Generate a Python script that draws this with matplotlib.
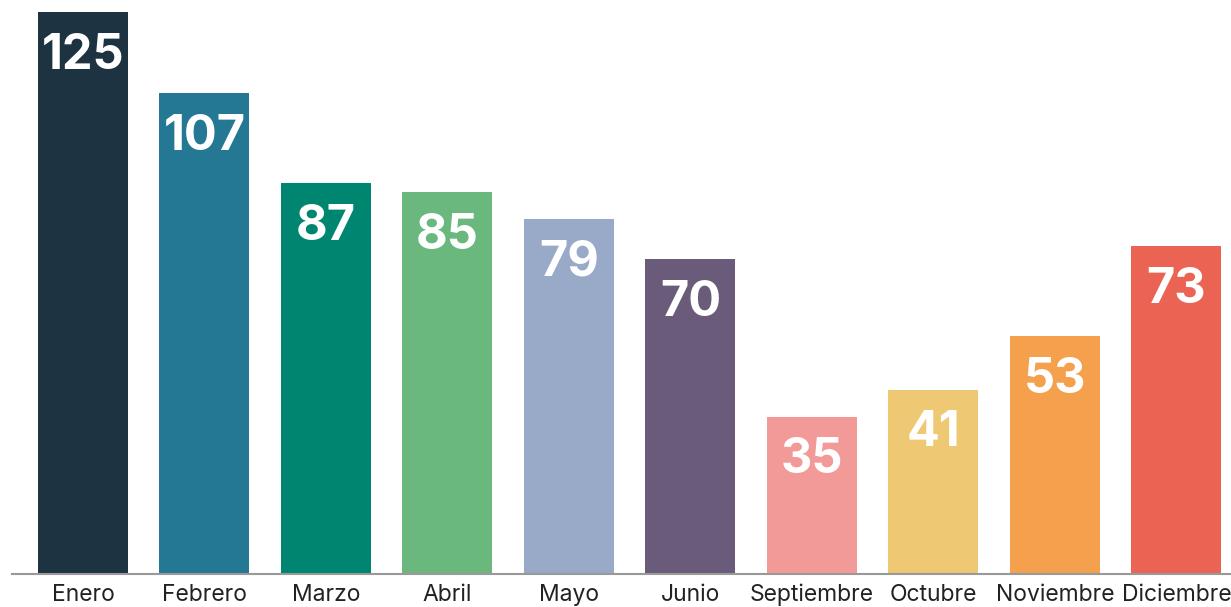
import matplotlib.pyplot as plt

months = ['Enero', 'Febrero', 'Marzo', 'Abril', 'Mayo', 'Junio',
          'Septiembre', 'Octubre', 'Noviembre', 'Diciembre']
values = [125, 107, 87, 85, 79, 70, 35, 41, 53, 73]
colors = ['#1d3341', '#247894', '#008570', '#6bb87f', '#99aac8',
          '#6b5b7b', '#f29a98', '#efc874', '#f5a04d', '#eb6453']

fig = plt.figure(figsize=(12.31, 6.07), dpi=100)
ax = fig.add_axes([12 / 1231, 33 / 607, 1219 / 1231, 562 / 607])

x = range(len(months))
bars = ax.bar(x, values, width=0.74, color=colors)

for xi, v in zip(x, values):
    ax.annotate(str(v), (xi, v), xytext=(0, -15), textcoords='offset points',
                ha='center', va='top', color='white', fontsize=35,
                fontweight='bold', family='Inter')

ax.set_xlim(-0.584, 9.45)
ax.set_ylim(0, 125)
ax.set_xticks(list(x))
ax.set_xticklabels(months, fontsize=16.5, family='Inter', color='#222222')
ax.tick_params(axis='x', length=0, pad=7)
ax.set_yticks([])
for s in ['top', 'right', 'left']:
    ax.spines[s].set_visible(False)
ax.spines['bottom'].set_color('#999999')
ax.spines['bottom'].set_linewidth(1.5)

fig.savefig('out.png', dpi=100)
